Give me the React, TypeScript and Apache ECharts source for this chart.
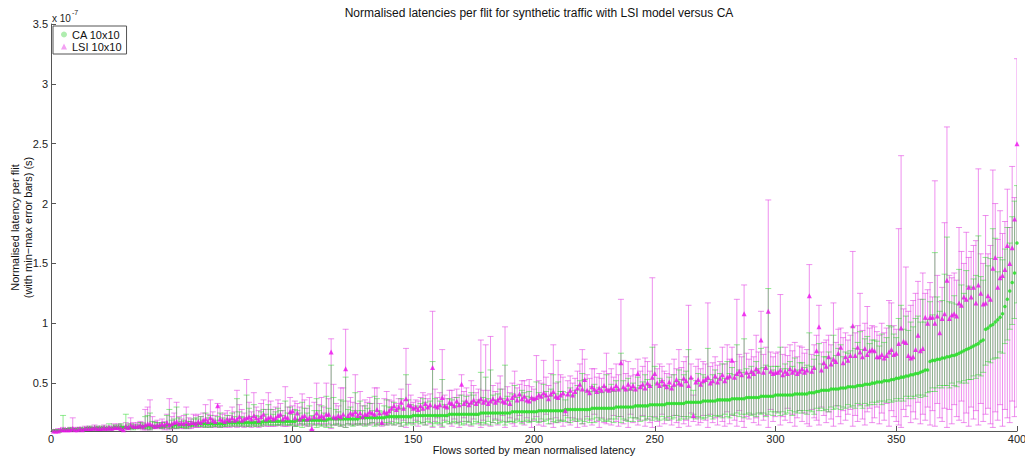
import React, { useEffect, useRef } from "react";
import * as echarts from "echarts";

// All values in hundredths of 1e-7 s (e.g. 25 => 0.25 x 10^-7 s), flows 1..400
const caMean = [
  10,10,10,10,11,11,11,11,11,11, 11,11,11,11,12,12,12,12,12,12,
  12,12,12,12,12,13,13,13,13,13, 13,13,13,13,13,13,14,14,14,14,
  14,14,14,14,14,14,14,15,15,15, 15,15,15,15,15,15,15,15,16,16,
  16,16,16,16,16,16,16,16,16,16, 16,16,17,17,17,17,17,17,17,17,
  17,17,17,17,17,17,17,18,18,18, 18,18,18,18,18,18,18,18,18,18,
  18,19,19,19,19,19,19,19,19,19, 19,19,19,19,20,20,20,20,20,20,
  20,20,20,20,20,20,20,21,21,21, 21,21,21,21,21,21,21,21,22,22,
  22,22,22,22,22,22,22,22,22,23, 23,23,23,23,23,23,23,23,23,23,
  23,23,23,23,24,24,24,24,24,24, 24,24,24,24,24,24,24,25,25,25,
  25,25,25,25,25,25,25,25,25,25, 26,26,26,26,26,26,26,26,26,26,
  26,27,27,27,27,27,27,27,27,27, 27,27,28,28,28,28,28,28,28,28,
  28,28,28,29,29,29,29,29,29,29, 29,29,29,30,30,30,30,30,30,30,
  30,31,31,31,31,31,31,32,32,32, 32,32,32,32,33,33,33,33,33,33,
  33,33,34,34,34,34,34,34,34,35, 35,35,35,35,35,36,36,36,36,36,
  36,37,37,37,37,37,37,38,38,38, 38,38,38,39,39,39,39,39,39,40,
  40,40,40,40,40,40,40,41,41,41, 41,41,41,42,42,42,43,43,44,44,
  44,44,45,45,45,45,46,46,46,47, 47,47,47,48,48,48,49,49,49,50,
  50,51,51,51,52,52,52,53,53,54, 54,55,55,56,56,57,57,58,58,59,
  60,61,61,68,69,69,70,70,71,71, 72,72,73,73,74,75,76,77,78,79,
  80,81,82,83,85,86,95,96,98,99, 101,103,105,108,114,120,127,134,142,167,
];

// CA error bar extents below / above the mean
const caBelow = [
  1,1,1,1,1,1,1,1,1,1, 1,1,1,1,1,1,1,1,1,1,
  1,1,1,1,1,1,1,1,1,2, 1,1,1,2,1,1,1,2,2,2,
  3,2,1,1,1,2,1,2,3,2, 2,3,2,2,2,3,2,1,2,2,
  2,2,2,3,2,3,2,2,2,3, 2,2,3,2,3,2,3,2,3,2,
  3,3,2,3,3,2,3,3,2,3, 3,3,3,3,3,2,3,3,3,3,
  4,5,3,6,4,3,5,3,4,6, 4,5,4,6,5,7,5,4,5,6,
  5,7,4,5,6,5,4,6,5,7, 6,5,4,7,6,5,6,4,7,5,
  6,7,5,6,8,5,7,6,5,8, 6,5,7,6,8,5,6,9,7,6,
  7,9,6,5,8,7,6,8,7,9, 8,6,7,9,8,6,7,10,8,9,
  7,10,8,6,9,8,7,10,8,7, 8,9,7,8,10,8,7,9,8,6,
  8,10,7,9,8,11,7,9,10,8, 9,8,10,7,11,9,8,10,9,12,
  10,8,11,9,12,8,10,9,11,10, 11,9,12,10,8,13,10,11,12,9,
  12,10,11,13,9,12,11,10,13,11, 12,13,10,12,14,11,13,12,10,14,
  13,11,14,12,13,10,14,12,13,15, 14,12,13,15,12,14,13,15,12,14,
  15,13,14,12,15,13,16,14,13,15, 14,16,13,15,14,17,15,13,16,14,
  15,17,14,16,15,13,17,15,16,14, 16,14,17,15,16,18,14,16,15,17,
  16,18,15,17,16,14,18,16,17,15, 17,16,18,15,17,19,16,18,17,16,
  18,17,16,19,17,18,16,19,18,17, 19,18,20,17,19,18,20,19,18,21,
  20,22,19,25,23,26,24,22,25,23, 24,26,23,25,27,24,26,25,28,26,
  27,25,28,26,29,27,30,28,31,29, 30,32,29,33,31,34,32,35,38,50,
];
const caAbove = [
  1,1,1,1,12,1,1,2,1,1, 1,2,1,2,1,2,1,1,2,1,
  2,1,2,4,1,2,1,2,3,1, 11,2,3,2,2,2,3,2,8,9,
  11,4,3,3,2,3,3,8,13,4, 5,15,6,3,4,9,3,3,4,5,
  4,6,3,9,5,7,4,3,6,9, 5,4,6,3,8,5,20,9,5,4,
  23,12,5,15,6,5,9,10,6,14, 10,6,8,11,9,5,17,7,12,6,
  10,8,6,15,10,6,12,4,8,18, 8,12,6,20,9,45,18,8,6,16,
  15,35,8,10,7,22,7,14,6,10, 8,12,6,18,16,6,5,10,14,8,
  8,12,6,9,15,7,35,14,10,6, 8,7,10,14,11,7,12,45,14,8,
  12,30,9,7,13,12,7,14,9,16, 11,15,9,18,16,10,12,34,13,30,
  12,36,15,11,16,20,12,40,14,10, 15,22,12,14,18,16,13,17,12,11,
  25,15,13,22,16,12,18,30,14,24, 16,16,8,14,18,12,16,20,24,30,
  25,16,15,18,20,14,17,13,18,28, 16,20,14,22,15,45,22,15,24,14,
  20,15,24,17,20,26,22,16,48,32, 18,22,20,16,15,22,14,24,18,28,
  20,24,26,44,20,10,18,24,16,22, 20,44,18,22,26,18,22,30,18,32,
  22,26,20,45,24,22,50,24,20,26, 22,30,24,40,24,26,90,25,22,24,
  24,40,22,26,22,28,24,30,20,26, 26,22,24,50,22,28,30,40,22,28,
  28,32,26,45,28,34,36,26,30,28, 30,50,32,36,45,30,38,40,34,36,
  36,34,30,40,32,36,46,44,38,34, 50,60,40,50,38,44,40,46,48,42,
  60,40,42,50,38,90,52,40,48,70, 100,46,44,50,42,70,56,48,66,52,
  50,56,58,90,54,50,60,52,56,80, 70,40,50,45,48,60,40,55,60,48,
];

const lsiMean = [
  10,10,10,11,11,11,11,11,12,11, 11,12,11,12,12,12,12,13,12,12,
  12,13,12,13,12,13,13,13,12,11, 14,13,15,14,14,14,15,14,15,16,
  16,15,14,15,15,16,15,17,15,16, 17,18,16,17,16,18,16,17,17,16,
  18,17,19,20,18,21,19,18,31,20, 19,18,20,19,21,19,20,22,19,20,
  21,22,20,23,21,19,22,24,20,21, 22,20,21,23,24,20,22,21,26,27,
  21,25,20,22,23,20,21,12,22,25, 22,23,21,24,24,76,22,21,23,22,
  24,62,23,25,24,26,23,25,22,24, 24,26,25,24,28,25,17,26,25,27,
  29,31,28,30,34,29,37,32,31,29, 30,28,31,29,33,30,32,63,31,30,
  32,38,31,30,34,33,31,35,32,49, 33,35,32,34,36,33,35,37,34,36,
  33,35,37,34,36,38,35,34,37,33, 38,40,36,41,37,39,36,35,38,37,
  38,40,39,42,40,37,41,43,39,38, 40,42,27,41,44,40,43,46,49,45,
  53,44,42,47,45,43,46,44,48,45, 44,46,45,48,45,67,47,45,49,46,
  48,45,58,47,49,46,50,48,55,58, 50,48,52,49,47,51,46,49,53,50,
  49,54,52,48,55,23,51,53,49,52, 53,55,50,52,56,51,54,57,52,55,
  56,69,55,58,60,57,108,59,56,60, 58,62,60,86,59,63,110,60,58,59,
  59,61,57,60,58,62,59,61,58,60, 62,59,61,123,60,63,77,97,61,67,
  64,72,66,70,68,75,80,67,72,69, 73,98,73,80,76,72,79,74,77,78,
  77,72,72,74,71,73,76,78,74,75, 83,96,85,84,73,71,72,78,90,77,
  79,105,100,105,105,100,106,92,104,108, 136,104,107,108,106,117,115,122,120,130,
  122,130,117,132,125,116,117,123,120,146, 155,130,138,140,145,165,150,163,187,250,
];
const lsiMax = [
  11,11,12,12,13,12,12,13,21,13, 13,13,12,14,13,14,13,15,14,13,
  14,15,13,14,14,16,15,16,15,14, 17,16,21,17,16,17,18,17,28,30,
  36,22,18,19,17,20,18,24,37,22, 25,34,22,20,23,30,21,20,24,23,
  24,22,25,32,24,36,26,23,33,31, 24,25,27,23,30,26,44,32,28,25,
  53,34,26,42,30,27,33,36,28,42, 35,28,30,36,33,27,47,30,38,31,
  35,33,30,41,36,29,38,22,34,50, 32,38,30,50,37,87,49,33,31,46,
  46,95,35,38,34,57,33,43,31,36, 34,38,33,46,46,33,24,37,43,36,
  35,40,33,37,45,36,79,49,40,34, 36,35,38,42,40,37,41,110,45,38,
  42,78,40,37,44,44,38,45,40,57, 43,46,40,52,48,42,45,86,44,82,
  44,89,48,43,50,56,45,97,47,42, 50,60,46,49,52,52,48,53,47,45,
  73,52,50,69,55,48,58,82,50,69, 57,55,40,52,56,50,54,60,66,78,
  70,57,54,62,62,55,58,54,60,75, 58,62,55,66,57,120,69,58,68,56,
  62,57,70,60,64,71,68,60,138,82, 62,66,64,60,58,66,57,70,62,78,
  63,68,72,115,66,40,64,70,62,68, 66,117,64,67,72,65,68,80,66,82,
  70,80,68,120,74,72,132,75,70,78, 72,90,76,110,74,80,203,76,72,75,
  76,124,74,80,73,82,77,84,72,81, 80,75,78,149,74,82,90,115,76,84,
  86,90,82,117,84,95,96,88,92,86, 90,160,92,98,125,94,100,114,96,98,
  97,93,90,100,92,96,119,117,98,95, 179,240,112,147,110,115,119,125,135,120,
  142,125,128,134,122,219,140,118,130,184, 264,140,138,142,136,180,160,150,176,155,
  160,165,169,229,158,150,190,158,165,228, 200,170,194,175,185,212,180,231,205,321,
];
const lsiMin = [
  10,10,10,10,10,10,10,10,10,10, 10,11,10,11,11,11,11,11,11,11,
  11,11,11,12,11,12,11,12,10,10, 12,11,12,12,12,12,12,11,11,11,
  11,12,12,12,12,12,11,12,11,12, 12,12,13,12,12,13,12,12,13,13,
  13,13,14,13,14,13,14,13,14,13, 14,13,14,13,14,14,13,14,14,13,
  14,14,13,15,14,13,14,15,14,14, 14,14,14,15,15,14,14,14,15,16,
  14,15,15,16,15,14,15,11,15,16, 16,15,16,14,16,12,15,15,16,14,
  15,13,16,15,16,15,16,15,16,15, 16,15,17,16,15,17,14,16,15,16,
  18,15,20,16,14,19,13,17,21,16, 19,14,22,17,15,20,16,13,18,21,
  15,13,19,22,16,14,20,17,13,18, 21,15,18,14,20,23,16,13,19,15,
  22,14,17,20,15,19,23,13,18,21, 16,14,20,23,17,15,21,18,13,19,
  22,15,18,14,24,20,16,13,21,17, 19,14,23,17,15,21,18,13,20,16,
  14,22,19,15,24,18,13,21,17,16, 20,15,23,18,14,22,16,19,13,24,
  17,21,15,19,23,14,20,17,13,22, 18,14,24,16,21,19,15,23,17,13,
  22,16,19,14,25,18,21,15,17,23, 19,13,24,17,21,15,22,18,14,26,
  16,23,19,14,27,18,13,22,20,24, 17,21,15,25,19,23,13,28,18,22,
  26,15,22,19,29,17,24,14,21,27, 18,25,16,14,28,21,19,15,30,23,
  17,26,20,14,31,22,16,27,19,24, 28,14,23,18,32,20,15,26,29,17,
  21,30,16,25,19,33,14,27,22,18, 15,13,28,22,31,17,26,20,34,16,
  24,19,30,15,27,14,33,21,18,29, 13,28,16,32,22,19,35,17,25,14,
  30,20,27,15,33,18,24,29,16,13, 26,19,32,14,28,21,17,35,22,30,
];

const xTicks = [0, 50, 100, 150, 200, 250, 300, 350, 400];
const yTicks = [0.5, 1, 1.5, 2, 2.5, 3, 3.5];

const FONT = "'Liberation Sans', Arial, Helvetica, sans-serif";

export default function App() {
  const ref = useRef<HTMLDivElement>(null);
  useEffect(() => {
    const chart = echarts.init(ref.current!, null, { renderer: "svg" });
    const sc = (v: number) => v / 100;
    const flows = caMean.map((_, i) => i + 1);
    const caPts = flows.map((x, i) => [x, sc(caMean[i])]);
    const lsiPts = flows.map((x, i) => [x, sc(lsiMean[i])]);
    const caBars = flows.map((x, i) => [x, sc(caMean[i] - caBelow[i]), sc(caMean[i] + caAbove[i])]);
    const lsiBars = flows.map((x, i) => [x, sc(lsiMin[i]), sc(lsiMax[i])]);

    const makeRender = (color: string) => (params: any, api: any) => {
      const x = api.value(0);
      const lo = api.coord([x, api.value(1)]);
      const hi = api.coord([x, api.value(2)]);
      const w = 3;
      const style = { stroke: color, lineWidth: 1, fill: "none" };
      return {
        type: "group",
        children: [
          { type: "line", shape: { x1: lo[0], y1: lo[1], x2: hi[0], y2: hi[1] }, style },
          { type: "line", shape: { x1: lo[0] - w, y1: lo[1], x2: lo[0] + w, y2: lo[1] }, style },
          { type: "line", shape: { x1: hi[0] - w, y1: hi[1], x2: hi[0] + w, y2: hi[1] }, style },
        ],
      };
    };

    chart.setOption({
      animation: false,
      backgroundColor: "#ffffff",
      title: {
        text: "Normalised latencies per flit for synthetic traffic with LSI model versus CA",
        left: 534,
        top: 2,
        textAlign: "center",
        textStyle: { fontFamily: FONT, fontSize: 12, fontWeight: "normal", color: "#111" },
      },
      legend: {
        orient: "vertical",
        left: 53,
        top: 26,
        padding: [3, 5, 2, 8],
        itemGap: 1,
        itemWidth: 6,
        itemHeight: 6,
        borderColor: "#555",
        borderWidth: 1,
        backgroundColor: "#fff",
        textStyle: { fontFamily: FONT, fontSize: 11, color: "#111" },
        data: [
          { name: "CA 10x10", icon: "circle", itemStyle: { color: "#9be89b" } },
          { name: "LSI 10x10", icon: "triangle", itemStyle: { color: "#f08af0" } },
        ],
      },
      grid: { left: 51, right: 8, top: 24, bottom: 25, outerBoundsMode: "none" },
      xAxis: {
        type: "value",
        min: 0,
        max: 400,
        interval: 50,
        name: "Flows sorted by mean normalised latency",
        nameLocation: "middle",
        nameGap: 13,
        nameMoveOverlap: false,
        nameTextStyle: { fontFamily: FONT, fontSize: 11, color: "#111", verticalAlign: "top" },
        axisLine: { show: true, lineStyle: { color: "#555", width: 1 } },
        axisTick: { show: true, inside: true, length: 5, lineStyle: { color: "#555" }, customValues: xTicks },
        axisLabel: { fontFamily: FONT, fontSize: 11, color: "#222", margin: 2, customValues: xTicks },
        splitLine: { show: false },
      },
      yAxis: {
        type: "value",
        min: 0.1,
        max: 3.5,
        name: "Normalised latency per flit\n(with min\u2212max error bars) (s)",
        nameLocation: "middle",
        nameRotate: 90,
        nameGap: 17,
        nameMoveOverlap: false,
        nameTextStyle: { fontFamily: FONT, fontSize: 11, color: "#111", lineHeight: 13 },
        axisLine: { show: true, lineStyle: { color: "#555", width: 1 } },
        axisTick: { show: true, inside: true, length: 5, lineStyle: { color: "#555" }, customValues: yTicks },
        axisLabel: { fontFamily: FONT, fontSize: 11, color: "#222", margin: 3, customValues: yTicks },
        splitLine: { show: false },
      },
      graphic: [
        {
          type: "text",
          left: 52,
          top: 9,
          style: {
            text: "{b|x 10}{s|-7}",
            rich: {
              b: { fontFamily: FONT, fontSize: 10, fill: "#222", verticalAlign: "bottom", lineHeight: 14 },
              s: { fontFamily: FONT, fontSize: 7, fill: "#222", verticalAlign: "top", lineHeight: 14, padding: [0, 0, 6, 1] },
            },
          },
        },
      ],
      series: [
        {
          name: "LSI bars",
          type: "custom",
          clip: true,
          renderItem: makeRender("rgba(226,70,226,0.6)"),
          data: lsiBars,
          encode: { x: 0, y: [1, 2] },
          silent: true,
          z: 1,
        },
        {
          name: "CA bars",
          type: "custom",
          clip: true,
          renderItem: makeRender("rgba(40,215,40,0.5)"),
          data: caBars,
          encode: { x: 0, y: [1, 2] },
          silent: true,
          z: 2,
        },
        {
          name: "CA 10x10",
          type: "scatter",
          symbol: "circle",
          symbolSize: 3.5,
          itemStyle: { color: "#1fe01f" },
          data: caPts,
          z: 3,
        },
        {
          name: "LSI 10x10",
          type: "scatter",
          symbol: "triangle",
          symbolSize: 5,
          itemStyle: { color: "#ee10ee" },
          data: lsiPts,
          z: 4,
        },
      ],
    });
    return () => chart.dispose();
  }, []);
  return (
    <div
      ref={ref}
      style={{ position: "absolute", left: 0, top: 0, width: 1025, height: 456, background: "#fff" }}
    />
  );
}
